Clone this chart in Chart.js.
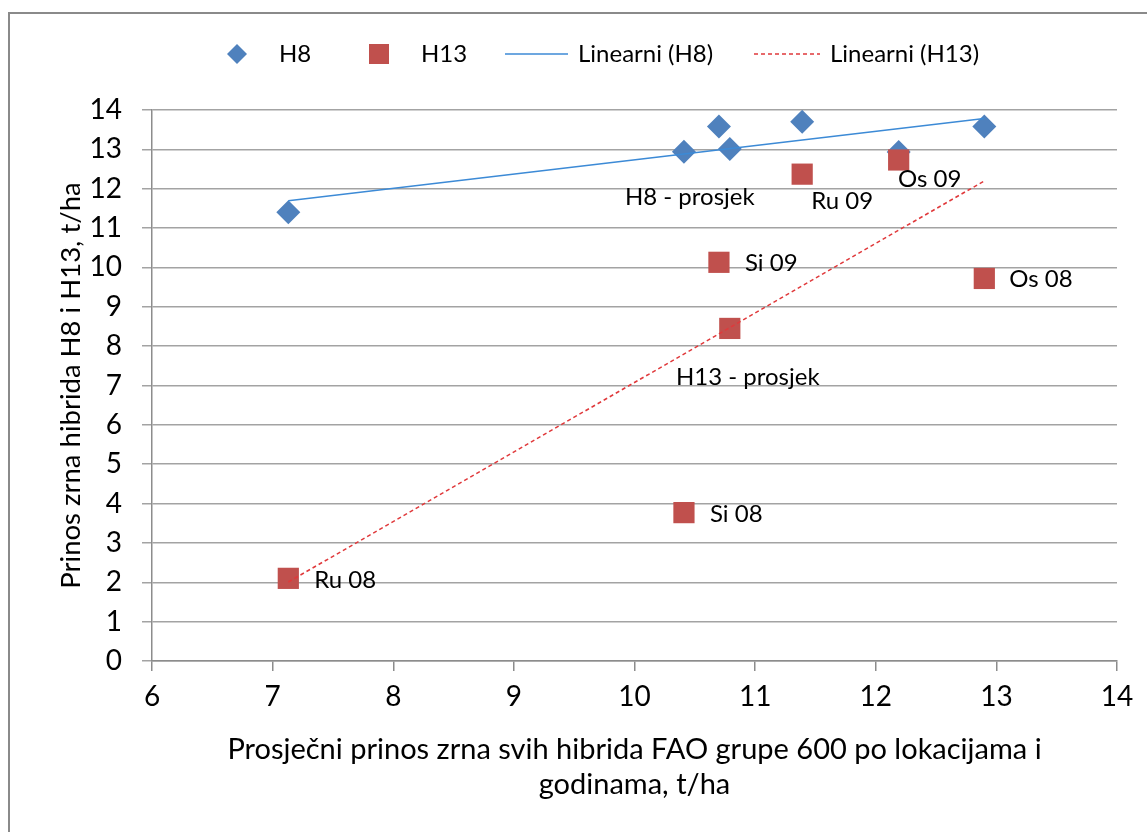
<!DOCTYPE html>
<html>
<head>
<meta charset="utf-8">
<script src="https://cdn.jsdelivr.net/npm/chart.js@4.4.1/dist/chart.umd.min.js"></script>
<style>
  html, body { margin: 0; padding: 0; background: #ffffff; }
  #wrap { width: 1147px; height: 832px; position: relative; }
  canvas { display: block; }
</style>
</head>
<body>
<div id="wrap"><canvas id="chart" width="1147" height="832"></canvas></div>
<script>
// ---- data ----
const categories = ['Ru 08', 'Si 08', 'Si 09', 'prosjek', 'Ru 09', 'Os 09', 'Os 08'];
const xValues = [7.13, 10.41, 10.70, 10.79, 11.39, 12.19, 12.90];
const h8Values = [11.40, 12.94, 13.58, 13.01, 13.70, 12.93, 13.58];
const h13Values = [2.10, 3.77, 10.13, 8.45, 12.37, 12.73, 9.72];
const h8Labels = ['', '', '', 'H8 - prosjek', '', '', ''];
const h13Labels = ['Ru 08', 'Si 08', 'Si 09', 'H13 - prosjek', 'Ru 09', 'Os 09', 'Os 08'];
const seriesNames = ['H8', 'H13', 'Linearni (H8)', 'Linearni (H13)'];
const xTickValues = [6, 7, 8, 9, 10, 11, 12, 13, 14];
const yTickValues = [0, 1, 2, 3, 4, 5, 6, 7, 8, 9, 10, 11, 12, 13, 14];
const xTitle = ['Prosječni prinos zrna svih hibrida FAO grupe 600 po lokacijama i', 'godinama, t/ha'];
const yTitle = 'Prinos zrna hibrida H8 i H13, t/ha';

// label placement relative to its point (pixels)
const h8LabelPlace = [null, null, null, {dx: -40, dy: 48, align: 'center'}, null, null, null];
const h13LabelPlace = [
  {dx: 26, dy: 2, align: 'left'},
  {dx: 26, dy: 2, align: 'left'},
  {dx: 26, dy: 1, align: 'left'},
  {dx: 18, dy: 49, align: 'center'},
  {dx: 40, dy: 27, align: 'center'},
  {dx: 31, dy: 19, align: 'center'},
  {dx: 25, dy: 1, align: 'left'}
];

const BLUE = '#4F81BD';
const RED = '#C0504D';
const TREND_BLUE = '#3C8AD6';
const TREND_RED = '#E0393B';
const FONT = 'Lato';

function points(xs, ys) { return xs.map((x, i) => ({x: x, y: ys[i]})); }

// least-squares linear trend, evaluated at the extreme x values (like Excel)
function trend(xs, ys) {
  const n = xs.length;
  const mx = xs.reduce((a, b) => a + b, 0) / n;
  const my = ys.reduce((a, b) => a + b, 0) / n;
  let sxy = 0, sxx = 0;
  for (let i = 0; i < n; i++) { sxy += (xs[i] - mx) * (ys[i] - my); sxx += (xs[i] - mx) * (xs[i] - mx); }
  const b = sxy / sxx, a = my - b * mx;
  const x0 = Math.min(...xs), x1 = Math.max(...xs);
  return [{x: x0, y: a + b * x0}, {x: x1, y: a + b * x1}];
}

const frame = {
  id: 'frame',
  beforeDraw(chart) {
    const ctx = chart.ctx;
    ctx.save();
    ctx.fillStyle = '#ffffff';
    ctx.fillRect(0, 0, chart.width, chart.height);
    ctx.strokeStyle = '#8a8a8a';
    ctx.lineWidth = 2;
    ctx.beginPath();
    ctx.moveTo(9, chart.height);
    ctx.lineTo(9, 13);
    ctx.lineTo(chart.width, 13);
    ctx.stroke();
    ctx.restore();
  }
};

const legendPlugin = {
  id: 'customLegend',
  afterDraw(chart) {
    const ctx = chart.ctx;
    const y = 54;
    ctx.save();
    ctx.font = '24px ' + FONT;
    ctx.fillStyle = '#000';
    ctx.textBaseline = 'middle';
    ctx.textAlign = 'left';
    // H8 diamond
    ctx.fillStyle = BLUE;
    ctx.beginPath();
    ctx.moveTo(237 - 10, y); ctx.lineTo(237, y - 10); ctx.lineTo(237 + 10, y); ctx.lineTo(237, y + 10);
    ctx.closePath(); ctx.fill();
    ctx.fillStyle = '#000';
    ctx.fillText(seriesNames[0], 279, y);
    // H13 square
    ctx.fillStyle = RED;
    ctx.fillRect(379 - 10, y - 10, 20, 20);
    ctx.fillStyle = '#000';
    ctx.fillText(seriesNames[1], 421, y);
    // trend H8
    ctx.strokeStyle = TREND_BLUE; ctx.lineWidth = 1.5;
    ctx.beginPath(); ctx.moveTo(505, y); ctx.lineTo(568, y); ctx.stroke();
    ctx.fillText(seriesNames[2], 578, y);
    // trend H13
    ctx.strokeStyle = TREND_RED; ctx.setLineDash([4, 3]);
    ctx.beginPath(); ctx.moveTo(754, y); ctx.lineTo(820, y); ctx.stroke();
    ctx.setLineDash([]);
    ctx.fillText(seriesNames[3], 830, y);
    ctx.restore();
  }
};

const dataLabels = {
  id: 'dataLabels',
  afterDatasetsDraw(chart) {
    const ctx = chart.ctx;
    ctx.save();
    ctx.font = '24px ' + FONT;
    ctx.fillStyle = '#000';
    ctx.textBaseline = 'middle';
    const sets = [[0, h8Labels, h8LabelPlace], [1, h13Labels, h13LabelPlace]];
    sets.forEach(([di, texts, place]) => {
      const meta = chart.getDatasetMeta(di);
      meta.data.forEach((el, i) => {
        if (!texts[i] || !place[i]) return;
        ctx.textAlign = place[i].align;
        ctx.fillText(texts[i], el.x + place[i].dx, el.y + place[i].dy);
      });
    });
    ctx.restore();
  }
};

const GRID = '#a3a3a3';
const AXIS = '#8c8c8c';

new Chart(document.getElementById('chart'), {
  type: 'scatter',
  data: {
    datasets: [
      {
        label: seriesNames[0],
        data: points(xValues, h8Values),
        pointStyle: 'rectRot', pointRadius: 12, pointHoverRadius: 12,
        backgroundColor: BLUE, borderColor: BLUE, borderWidth: 0,
        order: 2
      },
      {
        label: seriesNames[1],
        data: points(xValues, h13Values),
        pointStyle: 'rect', pointRadius: 15, pointHoverRadius: 15,
        backgroundColor: RED, borderColor: RED, borderWidth: 0,
        order: 1
      },
      {
        label: seriesNames[2],
        data: trend(xValues, h8Values),
        showLine: true, pointRadius: 0, borderColor: TREND_BLUE, borderWidth: 1.5,
        backgroundColor: TREND_BLUE, fill: false,
        order: 0
      },
      {
        label: seriesNames[3],
        data: trend(xValues, h13Values),
        showLine: true, pointRadius: 0, borderColor: TREND_RED, borderWidth: 1.5,
        borderDash: [4, 3], backgroundColor: TREND_RED, fill: false,
        order: 0
      }
    ]
  },
  options: {
    responsive: false,
    animation: false,
    devicePixelRatio: 1,
    layout: { padding: { top: 110, right: 30, left: 0, bottom: 0 } },
    plugins: {
      legend: { display: false },
      tooltip: { enabled: false },
      title: { display: false }
    },
    scales: {
      x: {
        type: 'linear',
        min: xTickValues[0], max: xTickValues[xTickValues.length - 1],
        afterBuildTicks(scale) { scale.ticks = xTickValues.map(v => ({value: v})); },
        afterFit(scale) { scale.height = 171; },
        grid: { drawOnChartArea: false, drawTicks: true, tickLength: 10, tickColor: AXIS, lineWidth: 1.5 },
        border: { display: true, color: AXIS, width: 1.5 },
        ticks: { color: '#000', font: { family: FONT, size: 28 }, padding: 9, maxRotation: 0 },
        title: {
          display: true, text: xTitle, color: '#000',
          font: { family: FONT, size: 29, lineHeight: 1.2 },
          padding: { top: 0, bottom: 30 }
        }
      },
      y: {
        type: 'linear',
        min: yTickValues[0], max: yTickValues[yTickValues.length - 1],
        afterBuildTicks(scale) { scale.ticks = yTickValues.map(v => ({value: v})); },
        afterFit(scale) { scale.width = 152; },
        grid: { color: GRID, lineWidth: 1.5, drawTicks: true, tickLength: 10, tickColor: GRID },
        border: { display: true, color: AXIS, width: 1.5 },
        ticks: { color: '#000', font: { family: FONT, size: 28 }, padding: 20 },
        title: {
          display: true, text: yTitle, color: '#000',
          font: { family: FONT, size: 27.5, lineHeight: 1.2 },
          padding: { top: 55, bottom: 0 }
        }
      }
    }
  },
  plugins: [frame, legendPlugin, dataLabels]
});
</script>
</body>
</html>
